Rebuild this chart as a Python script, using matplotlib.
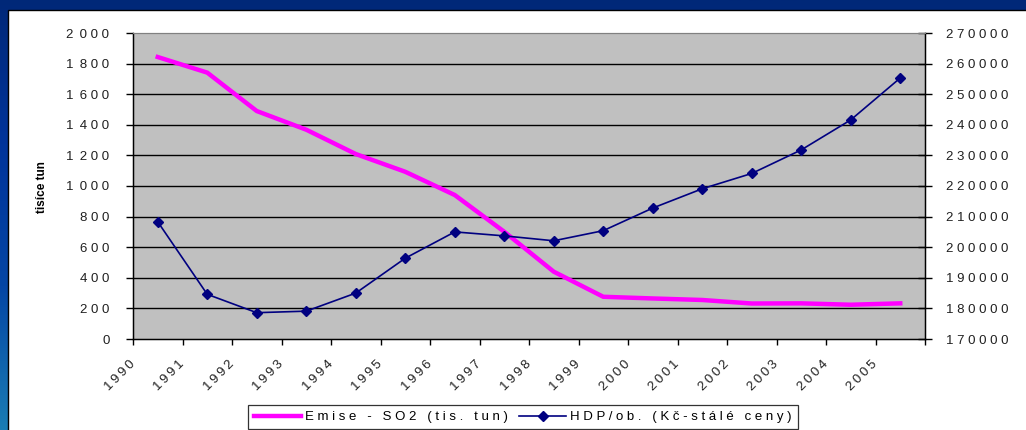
import numpy as np
import matplotlib
matplotlib.use("Agg")
import matplotlib.pyplot as plt
from matplotlib.patches import Rectangle
from matplotlib.lines import Line2D

plt.rcParams['font.family'] = ['Liberation Sans', 'DejaVu Sans']

# ==========================
# DATA
# ==========================

years = ['1990', '1991', '1992', '1993', '1994', '1995', '1996', '1997',
         '1998', '1999', '2000', '2001', '2002', '2003', '2004', '2005']

so2 = [1843, 1741, 1490, 1368, 1209, 1093, 941, 701,
       440, 276, 265, 255, 232, 233, 224, 233]

hdp = [208300, 184600, 178600, 179100, 185000, 196400, 205000, 203700,
       202100, 205400, 212800, 219100, 224100, 231800, 241600, 255300]

left_ticks = [0, 200, 400, 600, 800, 1000, 1200, 1400, 1600, 1800, 2000]
right_ticks = [170000, 180000, 190000, 200000, 210000, 220000,
               230000, 240000, 250000, 260000, 270000]

label_so2 = 'Emise - SO2 (tis. tun)'
label_hdp = 'HDP/ob. (Kč-stálé ceny)'
ylabel = 'tisíce tun'

PINK = '#FF00FF'
NAVY = '#000080'


def spread(s, sep='\u2009'):
    return sep.join(s)


def left_fmt(v):
    s = str(v)
    if len(s) > 3:
        return ' '.join(s[:-3]) + '\u2009 ' + ' '.join(s[-3:])
    return ' '.join(s)


# ==========================
# FIGURE + BACKGROUND
# ==========================

W, H = 1026, 430
fig = plt.figure(figsize=(W / 100, H / 100), dpi=100)

bg = fig.add_axes([0, 0, 1, 1])
bg.set_xlim(0, 1)
bg.set_ylim(0, 1)
bg.axis('off')
stops = np.array([[0, 40, 120], [0, 52, 155], [5, 70, 165], [26, 125, 180]]) / 255
pos = np.linspace(0, 1, len(stops))
t = np.linspace(0, 1, 200)
grad = np.stack([np.interp(t, pos, stops[:, c]) for c in range(3)], axis=1)
bg.imshow(grad[:, None, :], extent=[0, 1, 0, 1], aspect='auto', zorder=0)
bg.add_patch(Rectangle((8 / W, -0.01), 1, (H - 10) / H + 0.01,
                       facecolor='white', edgecolor='black', lw=1, zorder=1))

# ==========================
# CHART
# ==========================

ax = fig.add_axes([133 / W, 91 / H, 792 / W, 306 / H])
ax.set_facecolor('#C0C0C0')
x = np.arange(len(years)) + 0.5

ax.set_xlim(0, len(years))
ax.set_ylim(0, 2000)
for v in left_ticks[1:-1]:
    ax.axhline(v, color='black', lw=1, zorder=1)

ax.plot(x, so2, color=PINK, lw=3.2, solid_joinstyle='miter', zorder=3)

ax.set_yticks(left_ticks)
ax.set_yticklabels([left_fmt(v) for v in left_ticks], fontsize=9.5, color='#202020')
ax.tick_params(axis='y', direction='out', length=5, width=1, pad=12)

ax.set_xticks(np.arange(len(years) + 1))
ax.set_xticklabels([spread(y) for y in years] + [''], rotation=45,
                   ha='right', va='center', rotation_mode='anchor',
                   fontsize=9.5, color='#202020')
ax.tick_params(axis='x', direction='out', length=4, width=1, pad=13)

for side in ['left', 'bottom', 'right']:
    ax.spines[side].set_color('black')
    ax.spines[side].set_linewidth(1)
ax.spines['top'].set_color('#808080')

ax2 = ax.twinx()
ax2.set_ylim(170000, 270000)
ax2.plot(x, hdp, color=NAVY, lw=1.2, marker='D', markersize=5.5,
         markerfacecolor=NAVY, markeredgecolor=NAVY, zorder=4)
ax2.set_yticks(right_ticks)
ax2.set_yticklabels([' '.join(str(v)) for v in right_ticks], fontsize=9.5, color='#202020')
ax2.tick_params(axis='y', direction='inout', length=10, width=1, pad=10)
ax2.spines['right'].set_color('black')
ax2.spines['top'].set_color('#808080')

fig.text(42 / W, 1 - 187 / H, ylabel, rotation=90, ha='center', va='center',
         fontsize=8.5, fontweight='bold')

# ==========================
# LEGEND
# ==========================

handles = [
    Line2D([], [], color=PINK, lw=3.2),
    Line2D([], [], color=NAVY, lw=1.2, marker='D', markersize=5.5),
]
leg = fig.legend(handles, [spread(label_so2, ' '), spread(label_hdp, ' ')],
                 loc='upper left', bbox_to_anchor=(248 / W, 1 - 405 / H),
                 bbox_transform=fig.transFigure, ncol=2, fontsize=9.5,
                 frameon=True, fancybox=False, edgecolor='black',
                 handlelength=3.6, handletextpad=0.3, columnspacing=0.8,
                 borderaxespad=0, borderpad=0.45)
leg.get_frame().set_linewidth(0.9)

fig.savefig('out.png', dpi=100)
